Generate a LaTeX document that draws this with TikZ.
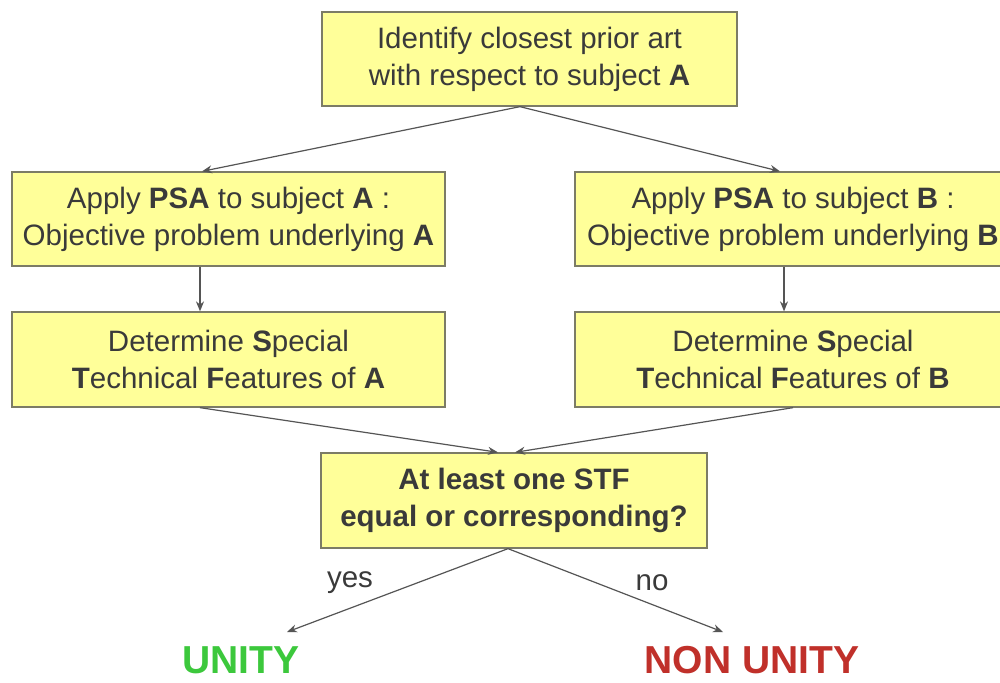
\documentclass[tikz,border=0pt]{standalone}
\usepackage{fontspec}
\setmainfont{Liberation Sans}
\usetikzlibrary{calc,arrows.meta}
\definecolor{boxfill}{HTML}{FFFF99}
\definecolor{boxline}{HTML}{7C7C66}
\definecolor{txt}{HTML}{3A3A3A}
\definecolor{connclr}{HTML}{555555}
\definecolor{unitygreen}{HTML}{3CC83C}
\definecolor{nonred}{HTML}{C0302A}
\begin{document}
\begin{tikzpicture}[x=1pt,y=-1pt,
  stepbox/.style={draw=boxline, line width=1.3pt, fill=boxfill, align=center,
    text=txt, font=\fontsize{29.5}{37}\selectfont, inner sep=0pt},
  conn/.style={draw=connclr, line width=1.2pt, -{Stealth[length=10pt,width=8pt]}},
  lbl/.style={text=txt, font=\fontsize{29.5}{34}\selectfont, inner sep=0pt},
  result/.style={font=\fontsize{39}{46}\selectfont\bfseries, inner sep=0pt}]
\clip (0,0) rectangle (1000,682);
\fill[white] (0,0) rectangle (1000,682);

% boxes
\node[stepbox, minimum width=415pt, minimum height=94pt] (prior) at (529.5,59)
  {Identify closest prior art\\with respect to subject \textbf{A}};
\node[stepbox, minimum width=433pt, minimum height=94pt] (psaA) at (228.5,219)
  {Apply \textbf{PSA} to subject \textbf{A} :\\Objective problem underlying \textbf{A}};
\node[stepbox, minimum width=436pt, minimum height=94pt] (psaB) at (793,219)
  {Apply \textbf{PSA} to subject \textbf{B} :\\Objective problem underlying \textbf{B}};
\node[stepbox, minimum width=433pt, minimum height=95pt] (stfA) at (228.5,359.5)
  {Determine \textbf{S}pecial\\\textbf{T}echnical \textbf{F}eatures of \textbf{A}};
\node[stepbox, minimum width=436pt, minimum height=95pt] (stfB) at (793,359.5)
  {Determine \textbf{S}pecial\\\textbf{T}echnical \textbf{F}eatures of \textbf{B}};
\node[stepbox, minimum width=386pt, minimum height=95pt,
  font=\fontsize{29.5}{37}\selectfont\bfseries] (check) at (514,500.5)
  {At least one STF\\equal or corresponding?};

% outcomes
\node[result, text=unitygreen] (unity) at (241,660) {UNITY};
\node[result, text=nonred] (nonunity) at (752,660) {NON UNITY};
\coordinate (yesEnd) at (287,632);
\coordinate (noEnd) at (723,632);

% connectors
\draw[conn] ($(prior.south)+(-9.5,0)$) -- ($(psaA.north)+(-26.5,0)$);
\draw[conn] ($(prior.south)+(-9.5,0)$) -- ($(psaB.north)+(-13,0)$);
\draw[conn] ($(psaA.south)+(-28.5,0)$) -- ($(stfA.north)+(-28.5,0)$);
\draw[conn] ($(psaB.south)+(-9,0)$) -- ($(stfB.north)+(-9,0)$);
\draw[conn] ($(stfA.south)+(-28.5,0)$) -- ($(check.north)+(-16,0)$);
\draw[conn] ($(stfB.south)+(0,0)$) -- ($(check.north)+(1,0)$);
\draw[conn] ($(check.south)+(-6,0)$) -- (yesEnd);
\draw[conn] ($(check.south)+(-6,0)$) -- (noEnd);

% branch labels
\node[lbl] (yes) at (350,583) {yes};
\node[lbl] (no) at (652,583) {no};
\end{tikzpicture}
\end{document}
